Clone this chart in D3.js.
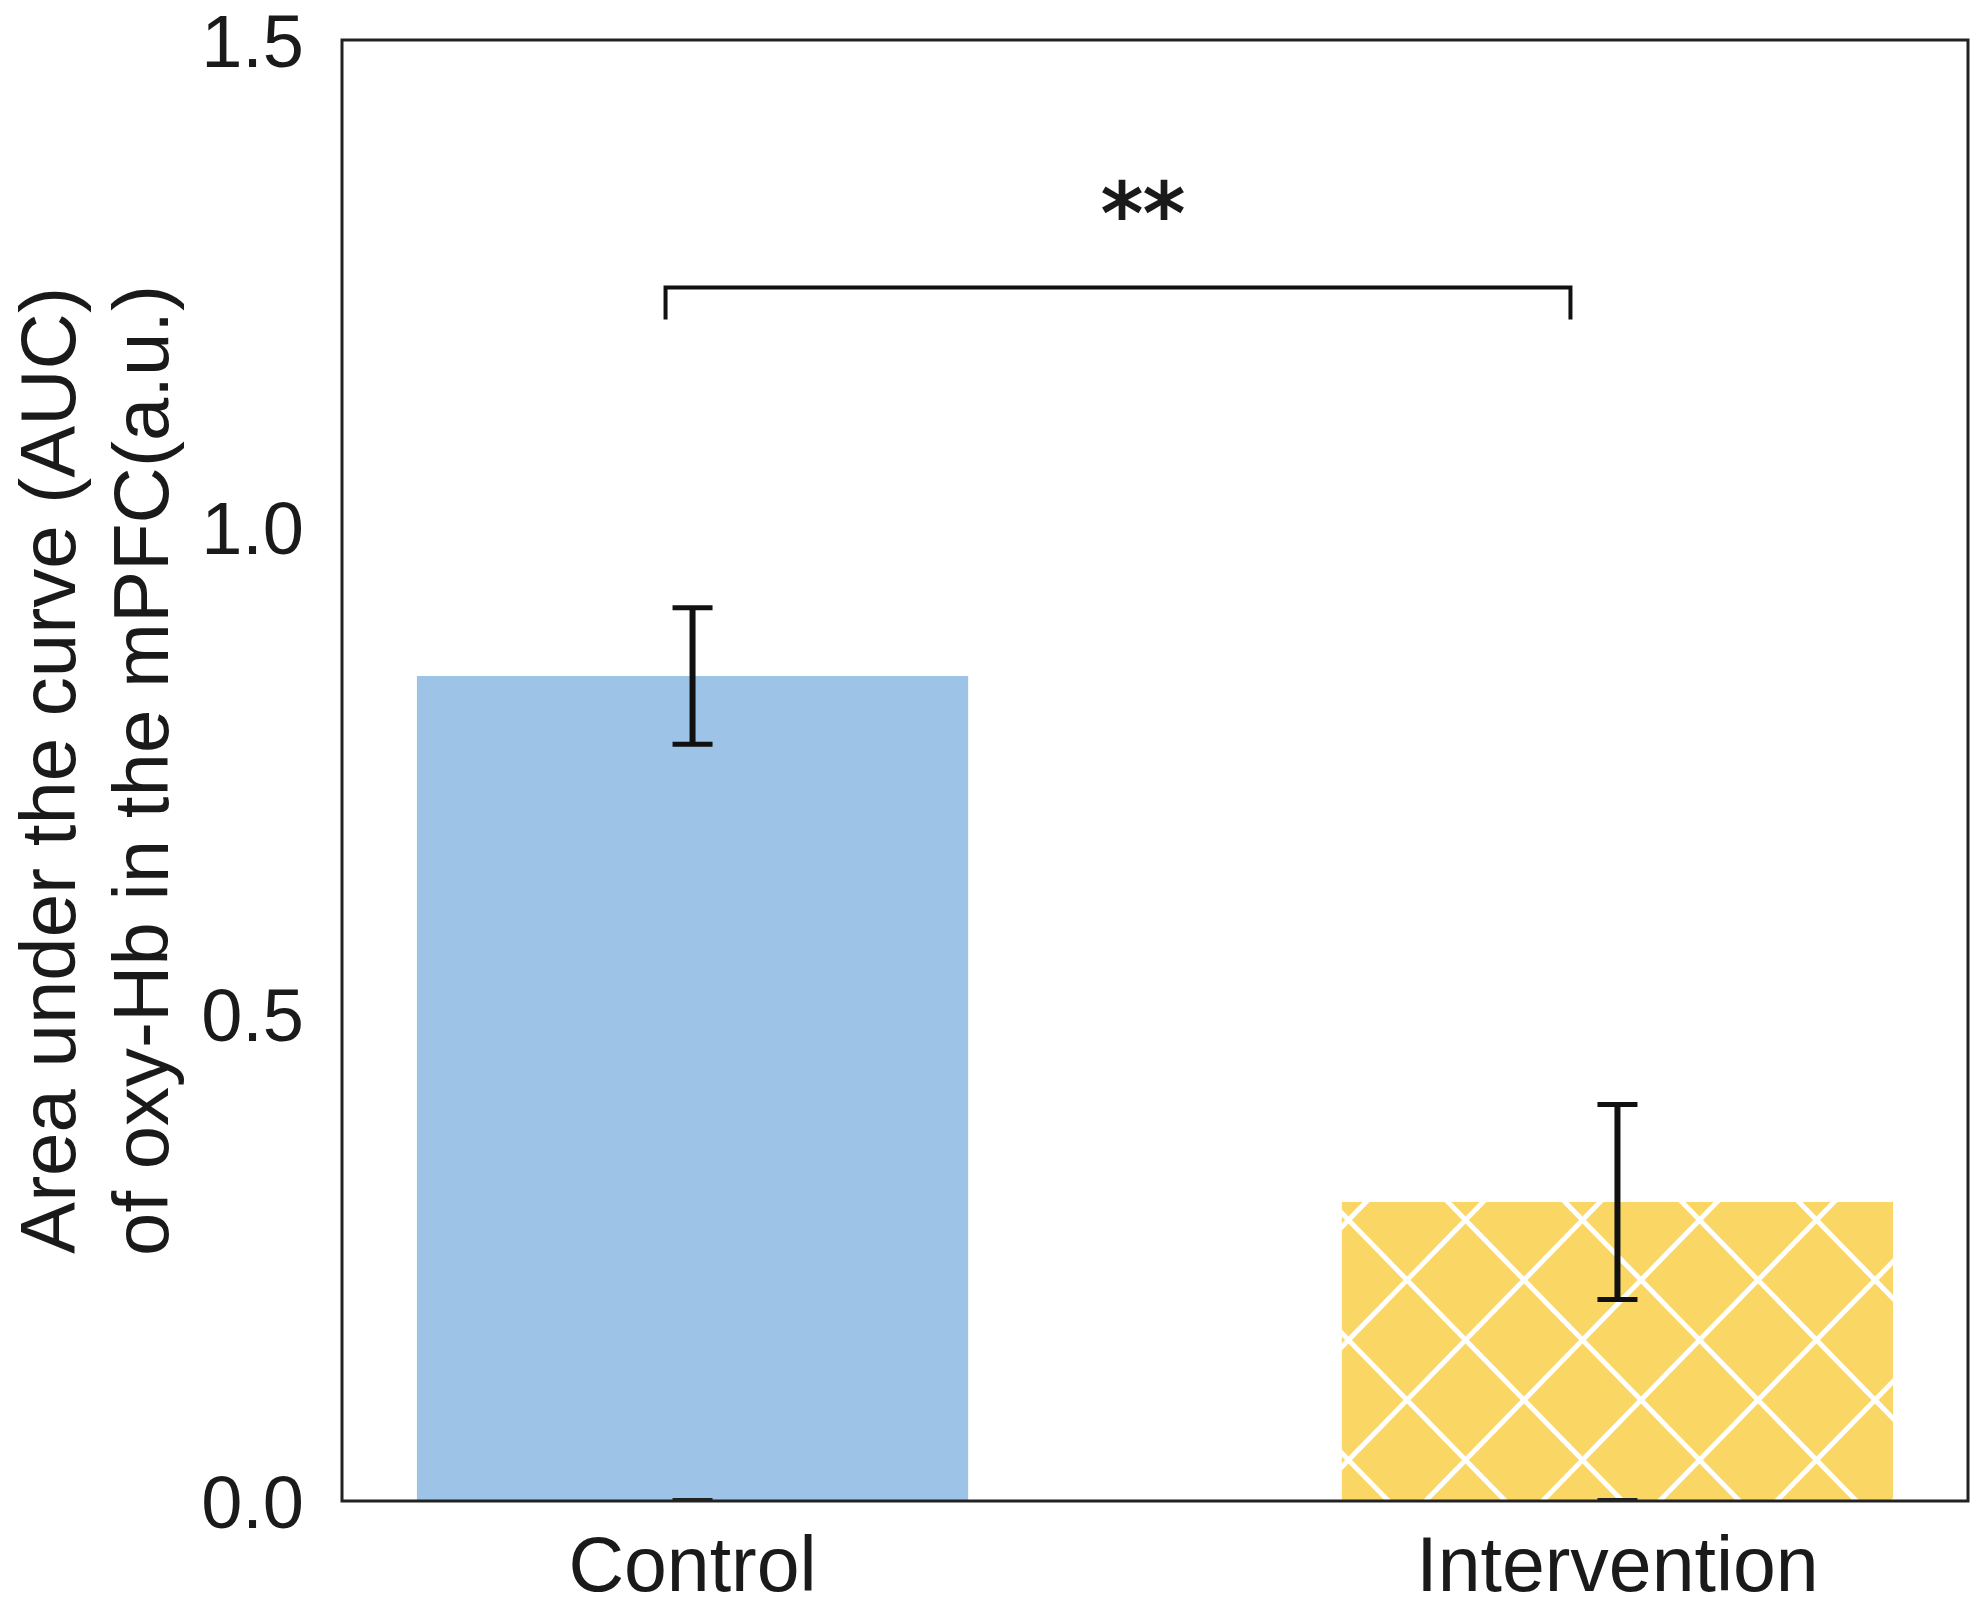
<!DOCTYPE html>
<html>
<head>
<meta charset="utf-8">
<script src="https://cdn.jsdelivr.net/npm/d3@7"></script>
<style>
	body { margin: 0; background: #fff; }
	text { font-family: "Liberation Sans", Arial, sans-serif; fill: #1a1a1a; }
</style>
</head>
<body>
<script>
// values
var groups = ['Control', 'Intervention'];
var means = [0.847, 0.307];
var errors = [0.07, 0.10];
var barColors = ['#9dc3e6', '#fad664'];
var yTicks = [0.0, 0.5, 1.0, 1.5];
var yLabelLines = ['Area under the curve (AUC)', 'of oxy-Hb in the mPFC(a.u.)'];
var sigText = '**';
var sigLevel = 1.246;
var sigDrop = 1.213;

var W = 1983, H = 1608;
var plot = {left: 342, top: 40, right: 1968, bottom: 1501};

var svg = d3.select('body').append('svg')
	.attr('width', W)
	.attr('height', H);

var x = d3.scaleBand()
	.domain(groups)
	.range([plot.left, plot.right])
	.paddingInner(0.404)
	.paddingOuter(0.081);

var y = d3.scaleLinear()
	.domain([0, 1.5])
	.range([plot.bottom, plot.top]);

// cross hatch for the intervention bar
var defs = svg.append('defs');
var hatch = defs.append('pattern')
	.attr('id', 'crossHatch')
	.attr('patternUnits', 'userSpaceOnUse')
	.attr('width', 117)
	.attr('height', 120)
	.attr('x', 1407 % 117)
	.attr('y', 1280 % 120);
hatch.append('rect')
	.attr('width', 117)
	.attr('height', 120)
	.attr('fill', barColors[1]);
hatch.append('path')
	.attr('d', 'M-11.7,-12L128.7,132M128.7,-12L-11.7,132')
	.attr('stroke', '#ffffff')
	.attr('stroke-width', 5)
	.attr('fill', 'none');

// bars
svg.append('g')
	.attr('id', 'bars')
	.selectAll('rect')
	.data(groups)
	.enter()
	.append('rect')
	.attr('x', function(d) { return x(d); })
	.attr('y', function(d, i) { return y(means[i]); })
	.attr('width', x.bandwidth())
	.attr('height', function(d, i) { return y(0) - y(means[i]); })
	.attr('fill', function(d, i) { return i == 1 ? 'url(#crossHatch)' : barColors[i]; });

// error bars
var capHalf = 20;
var errG = svg.append('g')
	.attr('id', 'errorBars')
	.selectAll('g')
	.data(groups)
	.enter()
	.append('g');
errG.append('line')
	.attr('x1', function(d) { return x(d) + x.bandwidth() / 2; })
	.attr('x2', function(d) { return x(d) + x.bandwidth() / 2; })
	.attr('y1', function(d, i) { return y(means[i] + errors[i]); })
	.attr('y2', function(d, i) { return y(means[i] - errors[i]); })
	.attr('stroke', '#111')
	.attr('stroke-width', 6);
errG.append('line')
	.attr('x1', function(d) { return x(d) + x.bandwidth() / 2 - capHalf; })
	.attr('x2', function(d) { return x(d) + x.bandwidth() / 2 + capHalf; })
	.attr('y1', function(d, i) { return y(means[i] + errors[i]); })
	.attr('y2', function(d, i) { return y(means[i] + errors[i]); })
	.attr('stroke', '#111')
	.attr('stroke-width', 5);
errG.append('line')
	.attr('x1', function(d) { return x(d) + x.bandwidth() / 2 - capHalf; })
	.attr('x2', function(d) { return x(d) + x.bandwidth() / 2 + capHalf; })
	.attr('y1', function(d, i) { return y(means[i] - errors[i]); })
	.attr('y2', function(d, i) { return y(means[i] - errors[i]); })
	.attr('stroke', '#111')
	.attr('stroke-width', 5);
// the little dash left at the baseline under each bar
errG.append('line')
	.attr('x1', function(d) { return x(d) + x.bandwidth() / 2 - capHalf; })
	.attr('x2', function(d) { return x(d) + x.bandwidth() / 2 + capHalf; })
	.attr('y1', y(0) - 1)
	.attr('y2', y(0) - 1)
	.attr('stroke', '#222')
	.attr('stroke-width', 4);

// frame
svg.append('rect')
	.attr('x', plot.left)
	.attr('y', plot.top)
	.attr('width', plot.right - plot.left)
	.attr('height', plot.bottom - plot.top)
	.attr('fill', 'none')
	.attr('stroke', '#222')
	.attr('stroke-width', 3);

// axes
var yAxis = svg.append('g')
	.attr('transform', 'translate(' + plot.left + ',0)')
	.call(d3.axisLeft(y).tickValues(yTicks).tickFormat(d3.format('.1f')).tickSize(0).tickPadding(38));
yAxis.select('.domain').remove();
yAxis.selectAll('text')
	.style('font-size', '74px')
	.attr('dy', '0.36em');

var xAxis = svg.append('g')
	.attr('transform', 'translate(0,' + plot.bottom + ')')
	.call(d3.axisBottom(x).tickSize(0).tickPadding(0));
xAxis.select('.domain').remove();
xAxis.selectAll('text')
	.style('font-size', '77px')
	.attr('dy', null)
	.attr('y', 90);

// y axis title, two lines
svg.append('g')
	.attr('id', 'yTitle')
	.selectAll('text')
	.data(yLabelLines)
	.enter()
	.append('text')
	.attr('transform', function(d, i) { return 'translate(' + (75 + i * 93) + ',' + ((plot.top + plot.bottom) / 2) + ') rotate(-90)'; })
	.attr('text-anchor', 'middle')
	.style('font-size', '78px')
	.text(function(d) { return d; });

// significance bracket
var xa = x(groups[0]) + x.bandwidth() / 2 - 27;
var xb = x(groups[1]) + x.bandwidth() / 2 - 47;
svg.append('path')
	.attr('d', 'M' + xa + ',' + y(sigDrop) + 'V' + y(sigLevel) + 'H' + xb + 'V' + y(sigDrop))
	.attr('fill', 'none')
	.attr('stroke', '#111')
	.attr('stroke-width', 4);
svg.append('text')
	.attr('x', (xa + xb) / 2 + 25)
	.attr('y', 243)
	.attr('text-anchor', 'middle')
	.style('font-family', '"DejaVu Sans", sans-serif')
	.style('font-size', '84px')
	.style('stroke', '#1a1a1a')
	.style('stroke-width', 2)
	.text(sigText);
</script>
</body>
</html>
